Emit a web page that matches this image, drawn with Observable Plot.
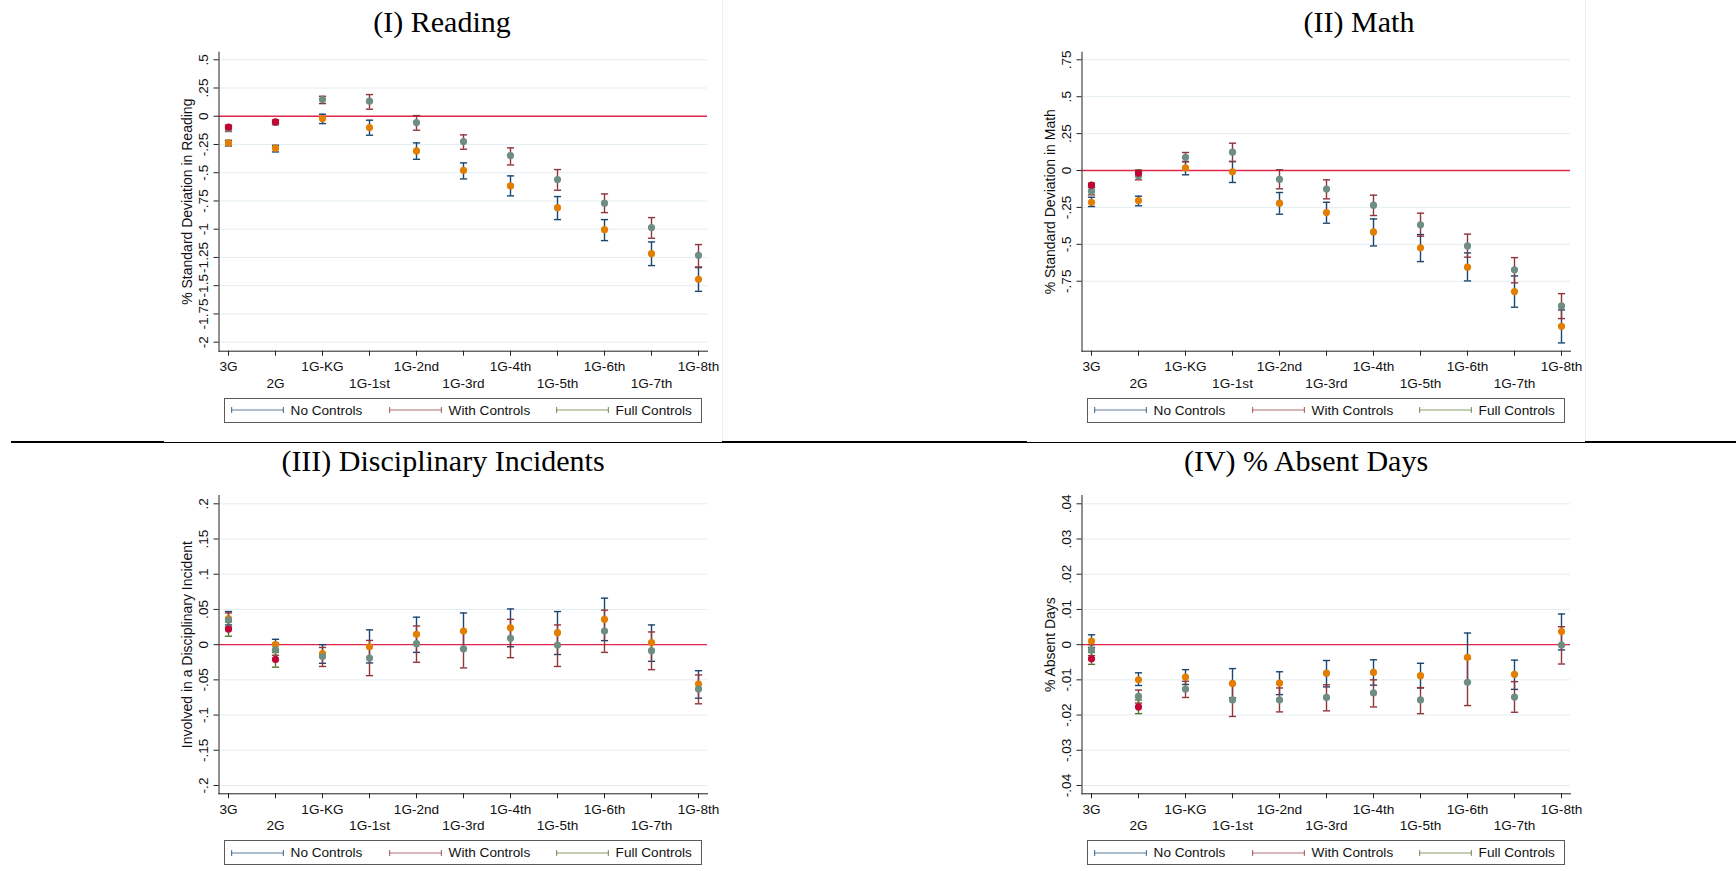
<!DOCTYPE html>
<html>
<head>
<meta charset="utf-8">
<script src="https://cdn.jsdelivr.net/npm/d3@7"></script>
<script src="https://cdn.jsdelivr.net/npm/@observablehq/plot@0.6"></script>
<style>
  body { margin: 0; background: #fff; }
  #page { position: relative; width: 1736px; height: 871px; overflow: hidden; background: #fff;
          font-family: "Liberation Sans", Arial, sans-serif; color: #111; }
  .title { position: absolute; font-family: "Liberation Serif", "Times New Roman", serif; font-size: 30px;
           line-height: 30px; white-space: nowrap; transform: translateX(-50%); color: #000; }
  .legend { position: absolute; height: 25px; box-sizing: border-box; border: 1px solid #5a5a5a; background: #fff; }
  .legend .item { position: absolute; top: 0; height: 23px; display: flex; align-items: center;
                  font-size: 13.6px; white-space: nowrap; color: #111; }
  .legend svg { margin-right: 7px; }
  .rule { position: absolute; background: #000; }
</style>
</head>
<body>
<div id="page"></div>
<script>
// Grade categories on the x axis
const grades = ["3G", "2G", "1G-KG", "1G-1st", "1G-2nd", "1G-3rd", "1G-4th", "1G-5th", "1G-6th", "1G-7th", "1G-8th"];
const seriesNames = ["No Controls", "With Controls", "Full Controls"];

// y tick values per panel
const readingTicks = [0.5, 0.25, 0, -0.25, -0.5, -0.75, -1, -1.25, -1.5, -1.75, -2];
const mathTicks = [0.75, 0.5, 0.25, 0, -0.25, -0.5, -0.75];
const disciplineTicks = [0.2, 0.15, 0.1, 0.05, 0, -0.05, -0.1, -0.15, -0.2];
const absentTicks = [0.04, 0.03, 0.02, 0.01, 0, -0.01, -0.02, -0.03, -0.04];

// Estimates as [estimate, lower CI, upper CI]; null where a model was not run
const readingNo = [[-0.236, -0.263, -0.213], [-0.283, -0.316, -0.257], [-0.021, -0.065, 0.018], [-0.100, -0.168, -0.035],
  [-0.307, -0.381, -0.236], [-0.478, -0.555, -0.413], [-0.617, -0.705, -0.528], [-0.809, -0.915, -0.711],
  [-1.004, -1.101, -0.915], [-1.216, -1.322, -1.113], [-1.443, -1.550, -1.340]];
const readingWith = [[-0.110, -0.135, -0.085], [-0.055, -0.075, -0.035], [0.148, 0.112, 0.177], [0.133, 0.062, 0.192],
  [-0.056, -0.124, 0.006], [-0.224, -0.292, -0.165], [-0.348, -0.431, -0.280], [-0.561, -0.655, -0.472],
  [-0.770, -0.853, -0.688], [-0.986, -1.080, -0.897], [-1.231, -1.334, -1.136]];
const readingFull = [[-0.097, -0.118, -0.078], [-0.050, -0.068, -0.033], null, null, null, null, null, null, null, null, null];

const mathNo = [[-0.215, -0.244, -0.181], [-0.203, -0.239, -0.174], [0.018, -0.029, 0.061], [-0.009, -0.081, 0.061],
  [-0.221, -0.296, -0.149], [-0.285, -0.357, -0.215], [-0.416, -0.511, -0.328], [-0.524, -0.617, -0.434],
  [-0.655, -0.748, -0.558], [-0.820, -0.926, -0.714], [-1.055, -1.168, -0.944]];
const mathWith = [[-0.140, -0.165, -0.115], [-0.036, -0.063, -0.005], [0.090, 0.059, 0.122], [0.124, 0.061, 0.185],
  [-0.059, -0.124, 0.005], [-0.126, -0.192, -0.063], [-0.235, -0.305, -0.167], [-0.368, -0.445, -0.289],
  [-0.511, -0.587, -0.431], [-0.673, -0.761, -0.590], [-0.917, -1.003, -0.834]];
const mathFull = [[-0.099, -0.115, -0.085], [-0.018, -0.040, 0.004], null, null, null, null, null, null, null, null, null];

const disciplineNo = [[0.037, 0.028, 0.047], [0.000, -0.0085, 0.0076], [-0.0128, -0.0265, 0.000], [-0.003, -0.026, 0.021],
  [0.0147, -0.011, 0.039], [0.0194, -0.006, 0.045], [0.024, -0.003, 0.0507], [0.017, -0.014, 0.047],
  [0.036, 0.0057, 0.066], [0.003, -0.0237, 0.028], [-0.056, -0.076, -0.037]];
const disciplineWith = [[0.035, 0.025, 0.045], [-0.007, -0.015, 0.002], [-0.017, -0.031, -0.004], [-0.019, -0.044, 0.006],
  [0.0014, -0.025, 0.0265], [-0.006, -0.033, 0.019], [0.009, -0.0185, 0.036], [-0.0005, -0.031, 0.028],
  [0.0194, -0.011, 0.049], [-0.0085, -0.0355, 0.018], [-0.063, -0.084, -0.043]];
const disciplineFull = [[0.022, 0.012, 0.032], [-0.021, -0.032, -0.011], null, null, null, null, null, null, null, null, null];

const absentNo = [[0.00104, -0.0008, 0.0028], [-0.0100, -0.0116, -0.0080], [-0.0092, -0.0113, -0.0071], [-0.0110, -0.0151, -0.0068],
  [-0.0109, -0.0142, -0.0077], [-0.0081, -0.0120, -0.0045], [-0.0079, -0.0115, -0.0043], [-0.0088, -0.0123, -0.0053],
  [-0.0036, -0.0105, 0.0033], [-0.0084, -0.0127, -0.0044], [0.0037, -0.0015, 0.0087]];
const absentWith = [[-0.0015, -0.0031, 0.0000], [-0.0147, -0.0166, -0.0129], [-0.0126, -0.0150, -0.0104], [-0.0157, -0.0204, -0.0112],
  [-0.0157, -0.0191, -0.0123], [-0.0150, -0.0188, -0.0114], [-0.0137, -0.0177, -0.0100], [-0.0157, -0.0196, -0.0122],
  [-0.0107, -0.0173, -0.0040], [-0.0149, -0.0192, -0.0105], [-0.0001, -0.0055, 0.0051]];
const absentFull = [[-0.0040, -0.0056, -0.0022], [-0.0177, -0.0196, -0.0157], null, null, null, null, null, null, null, null, null];

// Stata s2color palette: CI caps and point markers
const capColors = ["#1a476f", "#90353b", "#55752f"];
const dotColors = ["#e37e00", "#6e8e84", "#c10534"];

// Stata-style labels: no leading zero (".25", "-.5")
const stataFormat = v => v === 0 ? "0" : String(+v.toFixed(4)).replace(/^(-?)0\./, "$1.");

// Horizontal cap drawn as a dot symbol; half-width equals the dot radius
const capSymbol = {
  draw(context, size) {
    const r = Math.sqrt(size / Math.PI);
    context.moveTo(-r, 0);
    context.lineTo(r, 0);
  }
};

const page = document.getElementById("page");

function makePanel({left, top, title, titleX, titleTop, ticks, domain, yLabel, series, marginTop, marginBottom}) {
  const marks = [
    Plot.gridY(ticks, {stroke: "#e4edf2", strokeOpacity: 1, strokeWidth: 1}),
    Plot.ruleY([0], {stroke: "#e0264a", strokeWidth: 1.4}),
    Plot.frame({anchor: "left", stroke: "#222"}),
    Plot.frame({anchor: "bottom", stroke: "#222"}),
    Plot.axisX({ticks: grades.filter((_, i) => i % 2 === 0), tickSize: 5, tickPadding: 5.5, stroke: "#222"}),
    Plot.axisX({ticks: grades.filter((_, i) => i % 2 === 1), tickSize: 5, tickPadding: 22, stroke: "#222"}),
    Plot.axisY({ticks, tickSize: 5, tickFormat: () => "", stroke: "#222"}),
    Plot.text(ticks, {y: d => d, text: stataFormat, frameAnchor: "left", dx: -15, rotate: -90,
      textAnchor: "middle", lineAnchor: "middle", fill: "#111"}),
    Plot.text([yLabel], {text: d => d, frameAnchor: "left", dx: -31, rotate: -90,
      textAnchor: "middle", lineAnchor: "middle", fontSize: 14, fill: "#111"})
  ];
  const rows = series.map((vals, s) => vals
    .map((v, i) => v && {grade: grades[i], series: seriesNames[s], est: v[0], lo: v[1], hi: v[2]})
    .filter(Boolean));
  rows.forEach((data, s) => {
    marks.push(
      Plot.ruleX(data, {x: "grade", y1: "lo", y2: "hi", stroke: capColors[s], strokeWidth: 1.4}),
      Plot.dot(data, {x: "grade", y: "lo", symbol: capSymbol, r: 3.6, fill: "none", stroke: capColors[s], strokeWidth: 1.4}),
      Plot.dot(data, {x: "grade", y: "hi", symbol: capSymbol, r: 3.6, fill: "none", stroke: capColors[s], strokeWidth: 1.4})
    );
  });
  rows.forEach((data, s) => {
    marks.push(Plot.dot(data, {x: "grade", y: "est", r: 3.6, fill: dotColors[s]}));
  });

  const svg = Plot.plot({
    width: 558,
    height: 351,
    marginLeft: 54.5,
    marginRight: 15,
    marginTop,
    marginBottom,
    x: {type: "point", domain: grades, range: [64, 534], padding: 0, label: null},
    y: {domain, label: null},
    style: {fontFamily: "'Liberation Sans', Arial, sans-serif", fontSize: "13.6px", color: "#111", background: "transparent", overflow: "visible"},
    marks
  });
  svg.style.position = "absolute";
  svg.style.left = left + "px";
  svg.style.top = top + "px";
  page.appendChild(svg);

  const t = document.createElement("div");
  t.className = "title";
  t.textContent = title;
  t.style.left = titleX + "px";
  t.style.top = titleTop + "px";
  page.appendChild(t);

  // Legend box under the plot
  const lg = document.createElement("div");
  lg.className = "legend";
  lg.style.left = (left + 59.6) + "px";
  lg.style.top = (top + marginTop + (351 - marginTop - marginBottom) + 47) + "px";
  lg.style.width = "478px";
  const offsets = [6, 164, 331];
  seriesNames.forEach((name, s) => {
    const item = document.createElement("div");
    item.className = "item";
    item.style.left = offsets[s] + "px";
    const sw = d3.create("svg").attr("width", 53).attr("height", 10);
    const g = sw.append("g").attr("stroke", capColors[s]).attr("stroke-opacity", 0.7).attr("stroke-width", 1.2);
    g.append("line").attr("x1", 0.6).attr("x2", 52.4).attr("y1", 5).attr("y2", 5);
    g.append("line").attr("x1", 0.6).attr("x2", 0.6).attr("y1", 2).attr("y2", 8);
    g.append("line").attr("x1", 52.4).attr("x2", 52.4).attr("y1", 2).attr("y2", 8);
    item.appendChild(sw.node());
    const span = document.createElement("span");
    span.textContent = name;
    item.appendChild(span);
    lg.appendChild(item);
  });
  page.appendChild(lg);
}

makePanel({left: 164, top: 44, title: "(I) Reading", titleX: 442, titleTop: 7, ticks: readingTicks,
  domain: [-2.080, 0.567], yLabel: "% Standard Deviation in Reading", series: [readingNo, readingWith, readingFull],
  marginTop: 7.7, marginBottom: 44.3});
makePanel({left: 1027, top: 44, title: "(II) Math", titleX: 1359, titleTop: 7, ticks: mathTicks,
  domain: [-1.224, 0.8015], yLabel: "% Standard Deviation in Math", series: [mathNo, mathWith, mathFull],
  marginTop: 7.7, marginBottom: 44.3});
makePanel({left: 164, top: 487, title: "(III) Disciplinary Incidents", titleX: 443, titleTop: 446, ticks: disciplineTicks,
  domain: [-0.2118, 0.2118], yLabel: "Involved in a Disciplinary Incident", series: [disciplineNo, disciplineWith, disciplineFull],
  marginTop: 8, marginBottom: 44.7});
makePanel({left: 1027, top: 487, title: "(IV) % Absent Days", titleX: 1306, titleTop: 446, ticks: absentTicks,
  domain: [-0.04236, 0.04236], yLabel: "% Absent Days", series: [absentNo, absentWith, absentFull],
  marginTop: 8, marginBottom: 44.7});

// Horizontal rule between the two rows of panels (heavier outside the panel images)
[[11, 164, 2.5], [164, 722, 1], [722, 1027, 2.5], [1027, 1585, 1], [1585, 1736, 2.5]].forEach(([x0, x1, w]) => {
  const r = document.createElement("div");
  r.className = "rule";
  r.style.left = x0 + "px";
  r.style.width = (x1 - x0) + "px";
  r.style.top = (442 - w / 2) + "px";
  r.style.height = w + "px";
  page.appendChild(r);
});
// Faint right edges of the upper panel images
[722, 1585].forEach(x => {
  const r = document.createElement("div");
  r.className = "rule";
  r.style.left = x + "px";
  r.style.width = "1px";
  r.style.top = "0px";
  r.style.height = "441px";
  r.style.background = "#f0f0f0";
  page.appendChild(r);
});
</script>
</body>
</html>
